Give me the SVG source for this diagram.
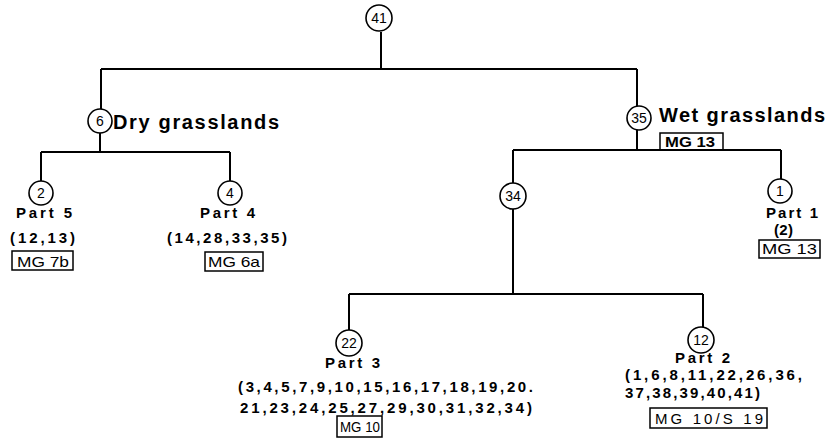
<svg xmlns="http://www.w3.org/2000/svg" width="829" height="442" viewBox="0 0 829 442">
<style>
.ln{stroke:#000;stroke-width:2;fill:none}
.c{fill:#fff;stroke:#000;stroke-width:1.6}
.n{font-family:"Liberation Sans",Arial,sans-serif;font-size:14px;text-anchor:middle;fill:#000}
.h{font-family:"Liberation Sans",Arial,sans-serif;font-size:20px;font-weight:bold;fill:#000}
.t{font-family:"Liberation Sans",Arial,sans-serif;font-size:15px;font-weight:bold;fill:#000}
.b{fill:none;stroke:#000;stroke-width:1.5}
.m{font-family:"Liberation Sans",Arial,sans-serif;font-size:15px;fill:#000}
</style>
<rect width="829" height="442" fill="#fff"/>
<g id="connectors">
<path class="ln" d="M381 32V69M101 69H637M101 69V109M100 133V152M41 152H230M41 152V181M230 152V181M637 69V106M637 130V150M513 150H781M513 150V183M781 150V179M513 209V294M349 294H703M349 294V330M703 294V327"/>
</g>
<g id="n41"><circle class="c" cx="379" cy="18" r="13"/><text class="n" x="379" y="23">41</text></g>
<g id="n6"><circle class="c" cx="100" cy="121" r="12"/><text class="n" x="100" y="126">6</text><text class="h" x="113" y="129" textLength="166" lengthAdjust="spacing">Dry grasslands</text></g>
<g id="n35"><circle class="c" cx="639" cy="118" r="12"/><text class="n" x="639" y="123">35</text><text class="h" x="659" y="122" textLength="166" lengthAdjust="spacing">Wet grasslands</text><rect class="b" x="660" y="133" width="63" height="17"/><text class="m" x="665" y="147" font-weight="bold" textLength="50" lengthAdjust="spacingAndGlyphs">MG 13</text></g>
<g id="n2"><circle class="c" cx="41" cy="193" r="12"/><text class="n" x="41" y="198">2</text><text class="t" x="16" y="218" textLength="56">Part 5</text><text class="t" x="10" y="243" textLength="65">(12,13)</text><rect class="b" x="12" y="251" width="61" height="19"/><text class="m" x="17" y="267" textLength="52" lengthAdjust="spacingAndGlyphs">MG 7b</text></g>
<g id="n4"><circle class="c" cx="230" cy="193" r="12"/><text class="n" x="230" y="198">4</text><text class="t" x="200" y="218" textLength="55">Part 4</text><text class="t" x="167" y="243" textLength="120">(14,28,33,35)</text><rect class="b" x="205" y="252" width="58" height="19"/><text class="m" x="208" y="267" textLength="52" lengthAdjust="spacingAndGlyphs">MG 6a</text></g>
<g id="n34"><circle class="c" cx="513" cy="196" r="13"/><text class="n" x="513" y="201">34</text></g>
<g id="n1"><circle class="c" cx="780" cy="191" r="12"/><text class="n" x="780" y="196">1</text><text class="t" x="766" y="218" textLength="52">Part 1</text><text class="t" x="774" y="235" textLength="19">(2)</text><rect class="b" x="759" y="240" width="61" height="18"/><text class="m" x="762" y="254" textLength="55" lengthAdjust="spacingAndGlyphs">MG 13</text></g>
<g id="n22"><circle class="c" cx="349" cy="343" r="13"/><text class="n" x="349" y="348">22</text><text class="t" x="325" y="368" textLength="55">Part 3</text><text class="t" x="238" y="392" textLength="295">(3,4,5,7,9,10,15,16,17,18,19,20.</text><text class="t" x="240" y="413" textLength="292">21,23,24,25,27,29,30,31,32,34)</text><rect class="b" x="337" y="416" width="45" height="21"/><text class="m" x="340" y="432" textLength="40" lengthAdjust="spacingAndGlyphs">MG 10</text></g>
<g id="n12"><circle class="c" cx="701" cy="340" r="13"/><text class="n" x="701" y="345">12</text><text class="t" x="675" y="363" textLength="55">Part 2</text><text class="t" x="625" y="380" textLength="177">(1,6,8,11,22,26,36,</text><text class="t" x="625" y="398" textLength="135">37,38,39,40,41)</text><rect class="b" x="650" y="408" width="117" height="20"/><text class="m" x="655" y="424" textLength="108" lengthAdjust="spacing">MG 10/S 19</text></g>
</svg>
